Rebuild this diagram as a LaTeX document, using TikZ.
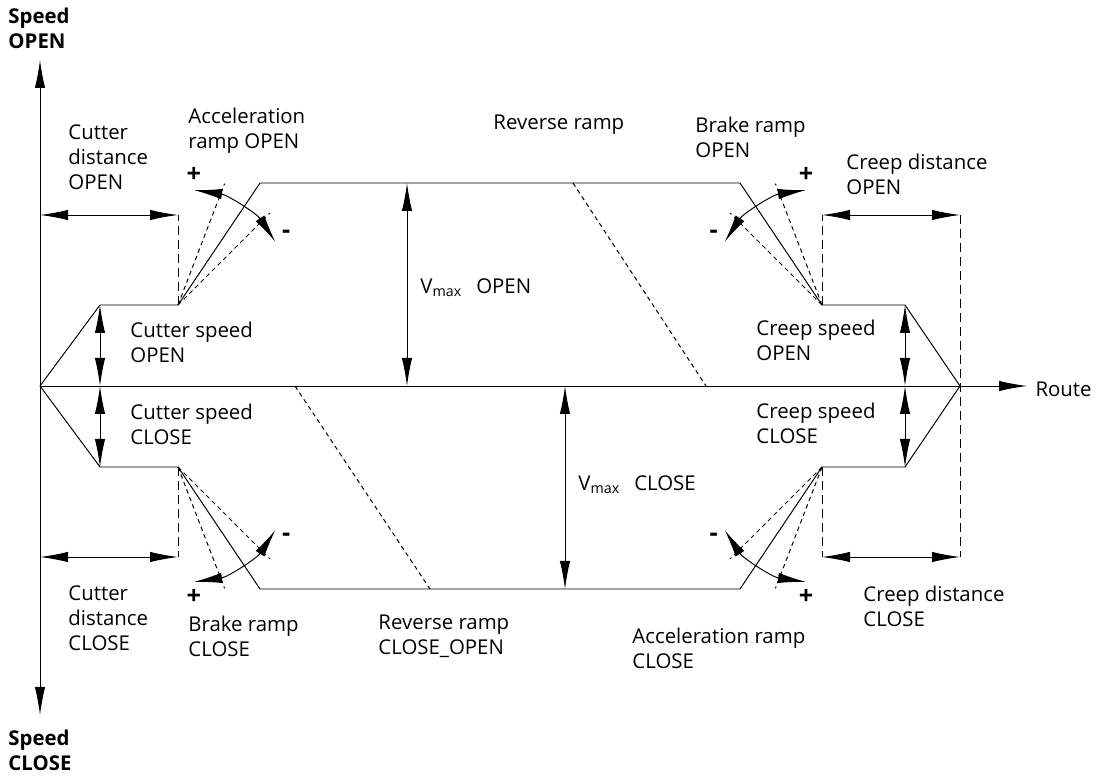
\documentclass[tikz,border=0pt]{standalone}
\usepackage{fontspec}
\setmainfont{Open Sans}
\usetikzlibrary{arrows.meta,calc}
\tikzset{
	lbl/.style={anchor=west,align=left,inner sep=0pt,font=\fontsize{14.5}{17.8}\selectfont},
	sgn/.style={inner sep=0pt,font=\fontsize{18}{20}\selectfont\bfseries},
	guide/.style={dash pattern=on 2.2mm off 1.3mm},
	ray/.style={dash pattern=on 1.1mm off 0.9mm}
}
\begin{document}
\begin{tikzpicture}[x=0.25mm,y=0.25mm,line width=0.7pt,>={Latex[length=7mm,width=2.6mm]}]
		\useasboundingbox (-40,-390) rectangle (1056,386);
		% axes
		\coordinate (o) at (0,0);
		\coordinate (ytop) at (0,326);
		\coordinate (ybot) at (0,-329);
		\coordinate (xend) at (987,0);
		\draw[<->] (ybot) -- (ytop);
		\draw[->] (o) -- (xend);
		% profile OPEN
		\coordinate (cso) at (60,81);
		\coordinate (co) at (138,81);
		\coordinate (ao) at (220,203);
		\coordinate (bo) at (700,203);
		\coordinate (ko) at (782,81);
		\coordinate (kso) at (865,81);
		\coordinate (e) at (920,0);
		\draw (o) -- (cso) -- (co) -- (ao) -- (bo) -- (ko) -- (kso) -- (e);
		% profile CLOSE
		\coordinate (csc) at (60,-81);
		\coordinate (cc) at (138,-81);
		\coordinate (bc) at (220,-203);
		\coordinate (ac) at (700,-203);
		\coordinate (kc) at (782,-81);
		\coordinate (ksc) at (865,-81);
		\draw (o) -- (csc) -- (cc) -- (bc) -- (ac) -- (kc) -- (ksc) -- (e);
		% distances
		\coordinate (dto) at (0,171);
		\coordinate (dtc) at (0,-171);
		\draw[guide] (co) -- (co |- dto);
		\draw[guide] (cc) -- (cc |- dtc);
		\draw[guide] (ko) -- (ko |- dto);
		\draw[guide] (kc) -- (kc |- dtc);
		\draw[guide] (e |- dto) -- (e |- dtc);
		\draw[<->] (dto) -- (co |- dto);
		\draw[<->] (dtc) -- (cc |- dtc);
		\draw[<->] (ko |- dto) -- (e |- dto);
		\draw[<->] (kc |- dtc) -- (e |- dtc);
		% speeds
		\draw[<->] (cso) -- (cso |- o);
		\draw[<->] (cso |- o) -- (csc);
		\draw[<->] (kso) -- (kso |- o);
		\draw[<->] (kso |- o) -- (ksc);
		\coordinate (vo) at (367,203);
		\coordinate (vc) at (525,-203);
		\draw[<->] (vo) -- (vo |- o);
		\draw[<->] (vc |- o) -- (vc);
		% reverse ramps
		\coordinate (ro1) at (533,203);
		\coordinate (ro2) at (666,0);
		\coordinate (rc1) at (255,0);
		\coordinate (rc2) at (390,-203);
		\draw[ray] (ro1) -- (ro2);
		\draw[ray] (rc1) -- (rc2);
		% ramp fans
		\foreach \c/\b/\s in {co/0/1,ko/180/-1,cc/0/-1,kc/180/1}{
			\draw[ray] (\c) -- ++(\b+\s*69:130);
			\draw[ray] (\c) -- ++(\b+\s*45:130);
			\draw[<->] (\c) ++(\b+\s*82:116) arc[start angle=\b+\s*82,end angle=\b+\s*33,radius=29mm];
			\node[sgn] at ($(\c)+(\b+\s*83:131)$) {+};
			\node[sgn] at ($(\c)+(\b+\s*33:129)$) {-};
		}
		% labels
		\node[lbl,font=\fontsize{14.5}{17.8}\selectfont\bfseries] (spo) at (-32,358) {Speed\\OPEN};
		\node[lbl,font=\fontsize{14.5}{17.8}\selectfont\bfseries] (spc) at (-32,-364) {Speed\\CLOSE};
		\node[lbl] (cdo) at (28,229) {Cutter\\distance\\OPEN};
		\node[lbl] (aro) at (148,255.5) {Acceleration\\ramp OPEN};
		\node[lbl] (rro) at (453,261) {Reverse ramp};
		\node[lbl] (bro) at (655,248.5) {Brake ramp\\OPEN};
		\node[lbl] (kdo) at (806,211.5) {Creep distance\\OPEN};
		\node[lbl] (vmo) at (380,98) {V\textsubscript{max}\hspace{0.7em}OPEN};
		\node[lbl] (cspo) at (90,43.5) {Cutter speed\\OPEN};
		\node[lbl] (kspo) at (716,45.5) {Creep speed\\OPEN};
		\node[lbl] (route) at (995,-3) {Route};
		\node[lbl] (cspc) at (90,-38.5) {Cutter speed\\CLOSE};
		\node[lbl] (kspc) at (716,-37) {Creep speed\\CLOSE};
		\node[lbl] (vmc) at (538,-99) {V\textsubscript{max}\hspace{0.7em}CLOSE};
		\node[lbl] (cdc) at (28,-232) {Cutter\\distance\\CLOSE};
		\node[lbl] (brc) at (148,-250) {Brake ramp\\CLOSE};
		\node[lbl] (rrc) at (338,-250.5) {Reverse ramp\\CLOSE\_OPEN};
		\node[lbl] (arc) at (592,-262.5) {Acceleration ramp\\CLOSE};
		\node[lbl] (kdc) at (823,-220.5) {Creep distance\\CLOSE};
\end{tikzpicture}
\end{document}
